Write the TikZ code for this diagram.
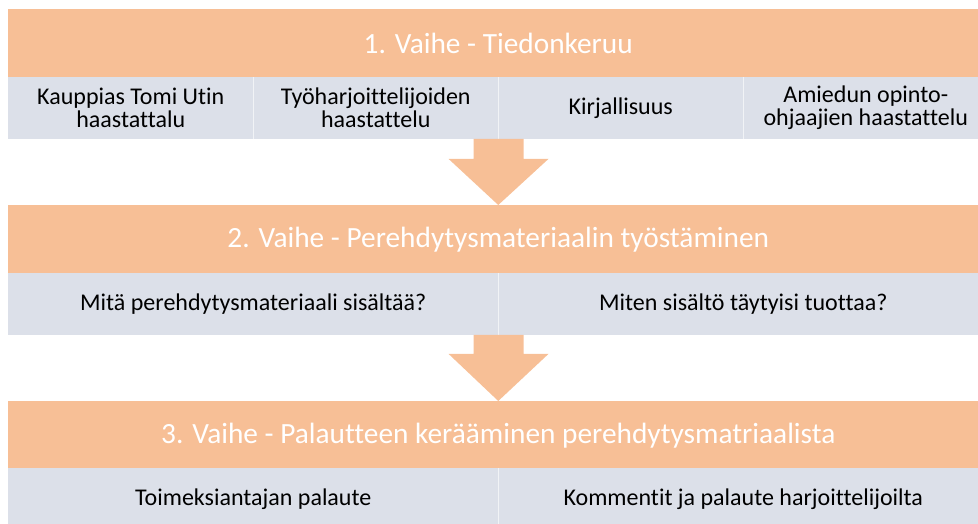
\documentclass[tikz,border=0pt]{standalone}
\usepackage{fontspec}
\setmainfont[Ligatures=NoCommon]{Carlito}
\usetikzlibrary{calc}
\definecolor{bandorange}{HTML}{F7BF96}
\definecolor{rowgray}{HTML}{DCE0E9}
\begin{document}
\begin{tikzpicture}[x=0.75pt,y=-0.75pt,
  band/.style={fill=bandorange, text=white, minimum width=735pt, minimum height=51pt,
    inner sep=0pt, anchor=north west, font=\fontsize{22}{26}\selectfont},
  cell/.style={fill=rowgray, text=black, minimum height=46pt, inner sep=0pt,
    anchor=north west, align=center, font=\fontsize{18}{17}\selectfont},
  cellfour/.style={cell, minimum width=183.75pt},
  celltwo/.style={cell, minimum width=367.5pt},
  divider/.style={draw=rowgray!40!white, line width=0.3pt},
  flow/.style={fill=bandorange}]
\useasboundingbox (0,0) rectangle (978,524);
\clip (0,0) rectangle (978,524);
% stage 1
\node[band] (b1) at (8,9) {1. Vaihe - Tiedonkeruu};
\node[cellfour] (c11) at (8,77) {Kauppias Tomi Utin\\haastattalu};
\node[cellfour] (c12) at (253,77) {Työharjoittelijoiden\\haastattelu};
\node[cellfour] (c13) at (498,77) {Kirjallisuus};
\node[cellfour] (c14) at (743,77) {Amiedun opinto-\\ohjaajien haastattelu};
\draw[divider] (c11.north east) -- (c11.south east);
\draw[divider] (c12.north east) -- (c12.south east);
\draw[divider] (c13.north east) -- (c13.south east);
% stage 2
\node[band] (b2) at (8,205) {2. Vaihe - Perehdytysmateriaalin työstäminen};
\node[celltwo] (c21) at (8,273) {Mitä perehdytysmateriaali sisältää?};
\node[celltwo] (c22) at (498,273) {Miten sisältö täytyisi tuottaa?};
\draw[divider] (c21.north east) -- (c21.south east);
% stage 3
\node[band] (b3) at (8,401) {3. Vaihe - Palautteen kerääminen perehdytysmatriaalista};
\node[celltwo] (c31) at (8,468) {Toimeksiantajan palaute};
\node[celltwo] (c32) at (498,468) {Kommentit ja palaute harjoittelijoilta};
\draw[divider] (c31.north east) -- (c31.south east);
% arrows
\fill[flow] ($(c12.south east)+(-25,0)$) -- ($(c12.south east)+(25,0)$)
  -- ($(c12.south east)+(25,20)$) -- ($(c12.south east)+(50,20)$)
  -- (b2.north) -- ($(c12.south east)+(-50,20)$)
  -- ($(c12.south east)+(-25,20)$) -- cycle;
\fill[flow] ($(c21.south east)+(-25,0)$) -- ($(c21.south east)+(25,0)$)
  -- ($(c21.south east)+(25,19)$) -- ($(c21.south east)+(50,19)$)
  -- (b3.north) -- ($(c21.south east)+(-50,19)$)
  -- ($(c21.south east)+(-25,19)$) -- cycle;
\end{tikzpicture}
\end{document}
